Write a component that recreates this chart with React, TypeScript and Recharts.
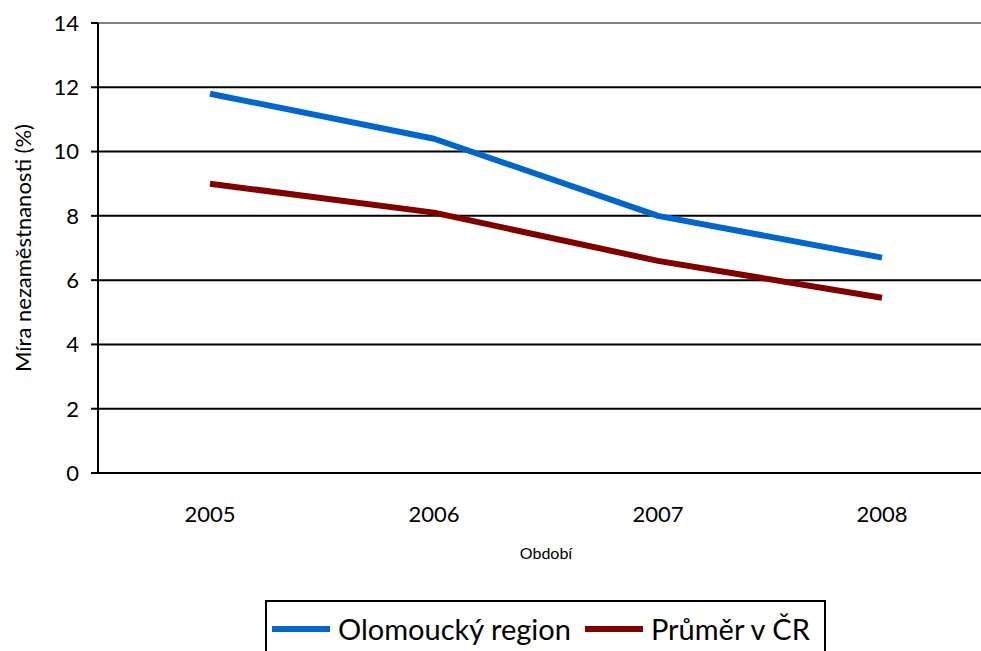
import { LineChart, Line, XAxis, YAxis, CartesianGrid, ReferenceLine, Label } from 'recharts';

const years = [2005, 2006, 2007, 2008];
const olomoucky = [11.8, 10.4, 8.0, 6.7];
const prumerCR = [9.0, 8.1, 6.6, 5.45];
const yTicks = [0, 2, 4, 6, 8, 10, 12, 14];
// tick marks sit between the categories, like in Excel
const xTickMarks = [2004.5, 2005.5, 2006.5, 2007.5, 2008.5];

const SERIES = [
  { key: 'olomoucky', name: 'Olomoucký region', color: '#0066CC' },
  { key: 'prumer', name: 'Průměr v ČR', color: '#800000' },
];

const FONT = 'Lato, "Open Sans", sans-serif';

const data = years.map((year, i) => ({
  year,
  olomoucky: olomoucky[i],
  prumer: prumerCR[i],
}));

export default function App() {
  return (
    <div style={{ position: 'absolute', left: 0, top: 0, width: 981, height: 651, overflow: 'hidden', background: '#fff', fontFamily: FONT }}>
      <LineChart
        width={981}
        height={651}
        data={data}
        margin={{ top: 23, right: -13, left: 38, bottom: 98 }}
      >
        <CartesianGrid vertical={false} stroke="#000" strokeWidth={2} />
        <ReferenceLine y={14} stroke="#808080" strokeWidth={2} />
        <XAxis
          xAxisId="marks"
          dataKey="year"
          type="number"
          domain={[2004.5, 2008.5]}
          ticks={xTickMarks}
          tick={false}
          height={0}
          tickSize={7}
          axisLine={{ stroke: '#000', strokeWidth: 2 }}
          tickLine={{ stroke: '#000', strokeWidth: 2 }}
        />
        <XAxis
          xAxisId="labels"
          dataKey="year"
          type="number"
          domain={[2004.5, 2008.5]}
          ticks={years}
          height={80}
          tickSize={0}
          tickMargin={33}
          axisLine={false}
          tickLine={false}
          tick={{ fill: '#000', fontSize: 22, fontFamily: FONT }}
        >
          <Label value="Období" position="insideTop" offset={75} style={{ fill: '#000', fontSize: 16, fontFamily: FONT }} />
        </XAxis>
        <YAxis
          domain={[0, 14]}
          ticks={yTicks}
          width={60}
          tickSize={7}
          tickMargin={12}
          axisLine={{ stroke: '#000', strokeWidth: 2 }}
          tickLine={{ stroke: '#000', strokeWidth: 2 }}
          tick={{ fill: '#000', fontSize: 22, fontFamily: FONT }}
        >
          <Label
            value="Míra nezaměstnanosti (%)"
            angle={-90}
            position="center"
            dx={-45}
            style={{ fill: '#000', fontSize: 22, fontFamily: FONT, textAnchor: 'middle' }}
          />
        </YAxis>
        {SERIES.map((s) => (
          <Line
            key={s.key}
            xAxisId="marks"
            type="linear"
            dataKey={s.key}
            name={s.name}
            stroke={s.color}
            strokeWidth={6}
            strokeLinejoin="round"
            dot={false}
            activeDot={false}
            isAnimationActive={false}
          />
        ))}
      </LineChart>
      <div
        style={{
          position: 'absolute',
          left: 265,
          top: 600,
          width: 561,
          height: 70,
          border: '2px solid #000',
          display: 'flex',
          alignItems: 'flex-start',
          paddingTop: 10,
          boxSizing: 'border-box',
          fontSize: 29,
          color: '#000',
        }}
      >
        {SERIES.map((s, i) => (
          <div key={s.key} style={{ display: 'flex', alignItems: 'center', marginLeft: i === 0 ? 5 : 14 }}>
            <div style={{ width: 58, height: 6, background: s.color, marginRight: 8 }} />
            <span style={{ lineHeight: '34px' }}>{s.name}</span>
          </div>
        ))}
      </div>
    </div>
  );
}
